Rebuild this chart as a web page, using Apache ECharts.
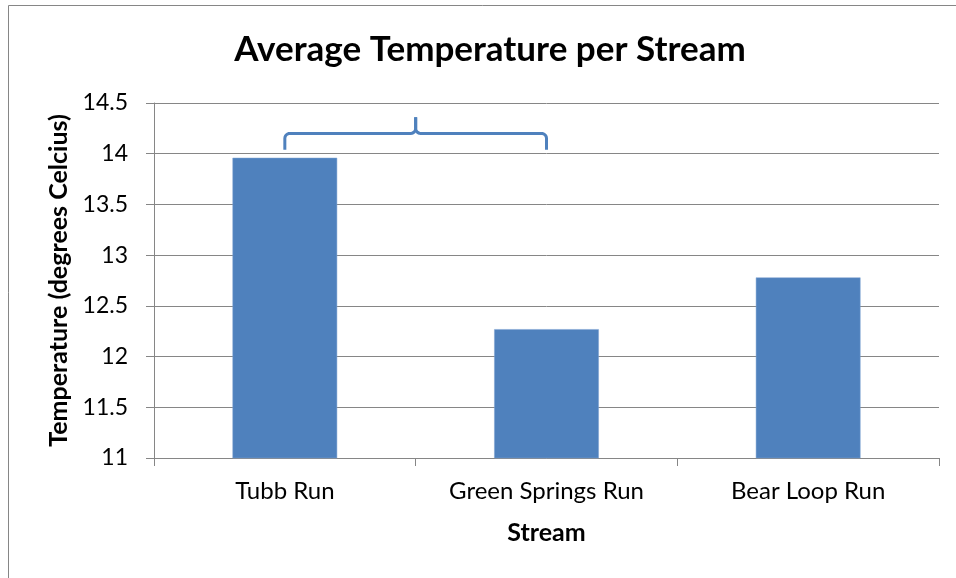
<!DOCTYPE html>
<html><head><meta charset="utf-8">
<script src="https://cdn.jsdelivr.net/npm/echarts@6/dist/echarts.min.js"></script>
<style>html,body{margin:0;padding:0;background:#fff}#c{width:956px;height:578px}</style>
</head><body><div id="c"></div>
<script>
const categories = ["Tubb Run", "Green Springs Run", "Bear Loop Run"];
const temperatures = [13.96, 12.27, 12.78];
const yTicks = [11, 11.5, 12, 12.5, 13, 13.5, 14, 14.5];
const braceFrom = "Tubb Run", braceTo = "Green Springs Run";
const braceLevels = [14.04, 14.2, 14.36]; // ends, bar, tip

const FONT = "Lato";
const chart = echarts.init(document.getElementById('c'), null, {renderer: 'canvas'});
const grey = '#868686';
chart.setOption({
  animation: false,
  title: {
    text: 'Average Temperature per Stream', left: 485, top: 27, textAlign: 'center',
    textStyle: {fontFamily: FONT, fontWeight: 'bold', fontSize: 35, color: '#000'}
  },
  grid: {left: 154, right: 17, top: 103, bottom: 120},
  xAxis: {
    type: 'category', data: categories,
    name: 'Stream', nameLocation: 'middle', nameGap: 62,
    nameTextStyle: {fontFamily: FONT, fontWeight: 'bold', fontSize: 25, color: '#000'},
    axisLine: {lineStyle: {color: grey, width: 1}},
    axisTick: {show: true, length: 8, interval: 0, lineStyle: {color: grey}},
    axisLabel: {fontFamily: FONT, fontSize: 24, color: '#000', margin: 21, interval: 0}
  },
  yAxis: {
    type: 'value', min: yTicks[0], max: yTicks[yTicks.length - 1], interval: 0.5,
    name: 'Temperature (degrees Celcius)', nameLocation: 'middle', nameGap: 83, nameRotate: 90,
    nameTextStyle: {fontFamily: FONT, fontWeight: 'bold', fontSize: 25, color: '#000'},
    axisLine: {show: true, lineStyle: {color: grey, width: 1}},
    axisTick: {show: true, length: 8, lineStyle: {color: grey}},
    axisLabel: {fontFamily: FONT, fontSize: 23, color: '#000', margin: 26},
    splitLine: {show: true, lineStyle: {color: grey, width: 1}}
  },
  series: [{
    type: 'bar', data: temperatures, barWidth: '40%',
    itemStyle: {color: '#4F81BD', borderColor: '#7FA3D3', borderWidth: 0.5}
  }]
});

function arc(cx, cy, r, a0, a1, n) {
  const pts = [];
  for (let i = 0; i <= n; i++) {
    const a = a0 + (a1 - a0) * i / n;
    pts.push([cx + r * Math.cos(a), cy + r * Math.sin(a)]);
  }
  return pts;
}
function drawBrace() {
  const x1 = chart.convertToPixel({xAxisIndex: 0}, braceFrom);
  const x2 = chart.convertToPixel({xAxisIndex: 0}, braceTo);
  const xm = (x1 + x2) / 2;
  const yb = chart.convertToPixel({yAxisIndex: 0}, braceLevels[0]);
  const yh = chart.convertToPixel({yAxisIndex: 0}, braceLevels[1]);
  const yt = chart.convertToPixel({yAxisIndex: 0}, braceLevels[2]);
  const r = 5, P = Math.PI;
  const left = [[x1, yb]].concat(arc(x1 + r, yh + r, r, P, 1.5 * P, 6))
    .concat(arc(xm - r, yh - r, r, 0.5 * P, 0, 6)).concat([[xm, yt]]);
  const right = [[x2, yb]].concat(arc(x2 - r, yh + r, r, 0, -0.5 * P, 6))
    .concat(arc(xm + r, yh - r, r, 0.5 * P, P, 6)).concat([[xm, yt]]);
  const st = {fill: null, stroke: '#4F81BD', lineWidth: 3, lineJoin: 'round'};
  chart.setOption({
    graphic: [
      {type: 'rect', shape: {x: 8.5, y: 5.5, width: 1200, height: 1200}, style: {fill: null, stroke: grey, lineWidth: 1}, silent: true, z: -1},
      {type: 'polyline', shape: {points: left}, style: st, z: 10},
      {type: 'polyline', shape: {points: right}, style: st, z: 10}
    ]
  });
}
drawBrace();
</script>
</body></html>
